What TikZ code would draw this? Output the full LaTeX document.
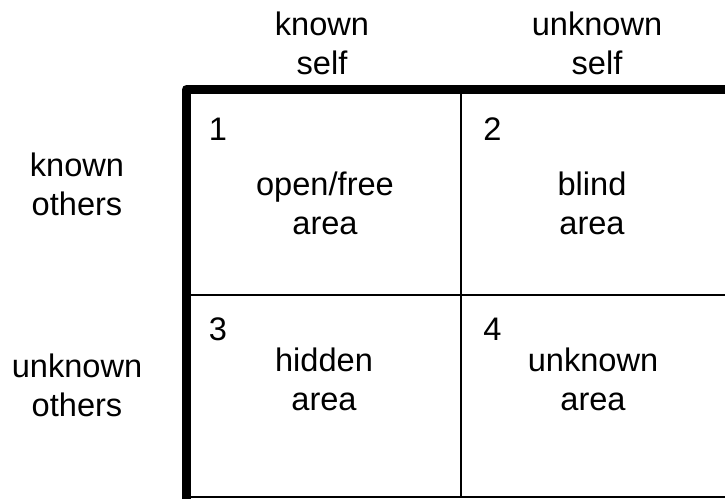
\documentclass[tikz,border=0pt]{standalone}
\usepackage{fontspec}
\setmainfont{Liberation Sans}
\usetikzlibrary{positioning}

\begin{document}
\begin{tikzpicture}[x=0.5pt,y=-0.5pt,
    lbl/.style={font=\fontsize{16.3pt}{19.5pt}\selectfont, align=center, inner sep=0pt, anchor=base},
    num/.style={font=\fontsize{16.3pt}{19.5pt}\selectfont, inner sep=0pt, anchor=base west},
    frame/.style={line width=4.5pt, line join=round},
    grid/.style={line width=0.7pt}]
    \useasboundingbox (0,0) rectangle (725,499);
    % corners of the window
    \coordinate (tl) at (186.5,89.5);
    \coordinate (tr) at (725,89.5);
    \coordinate (bl) at (186.5,499);
    \coordinate (br) at (725,497);
    \coordinate (mt) at (461,89.5);
    \coordinate (mb) at (461,497);
    \coordinate (ml) at (186.5,295);
    \coordinate (mr) at (725,295);
    % thin grid
    \draw[grid] (mt) -- (mb);
    \draw[grid] (ml) -- (mr);
    \draw[grid] (186.5,497) -- (br);
    % thick frame
    \draw[frame] (bl) -- (tl) -- (tr);
    % headers (base is the last line)
    \node[lbl] (kself) at (322,74) {known\\self};
    \node[lbl] (uself) at (597,74) {unknown\\self};
    \node[lbl] (kothers) at (77,215) {known\\others};
    \node[lbl] (uothers) at (77,416) {unknown\\others};
    % the four areas
    \node[num] (n1) at (208.5,140) {1};
    \node[num] (n2) at (483,140) {2};
    \node[num] (n3) at (208.5,340) {3};
    \node[num] (n4) at (483,340) {4};
    \node[lbl] (open) at (325,234) {open/free\\area};
    \node[lbl] (blind) at (592,234) {blind\\area};
    \node[lbl] (hidden) at (324,410) {hidden\\area};
    \node[lbl] (unknown) at (593,410) {unknown\\area};
\end{tikzpicture}
\end{document}
